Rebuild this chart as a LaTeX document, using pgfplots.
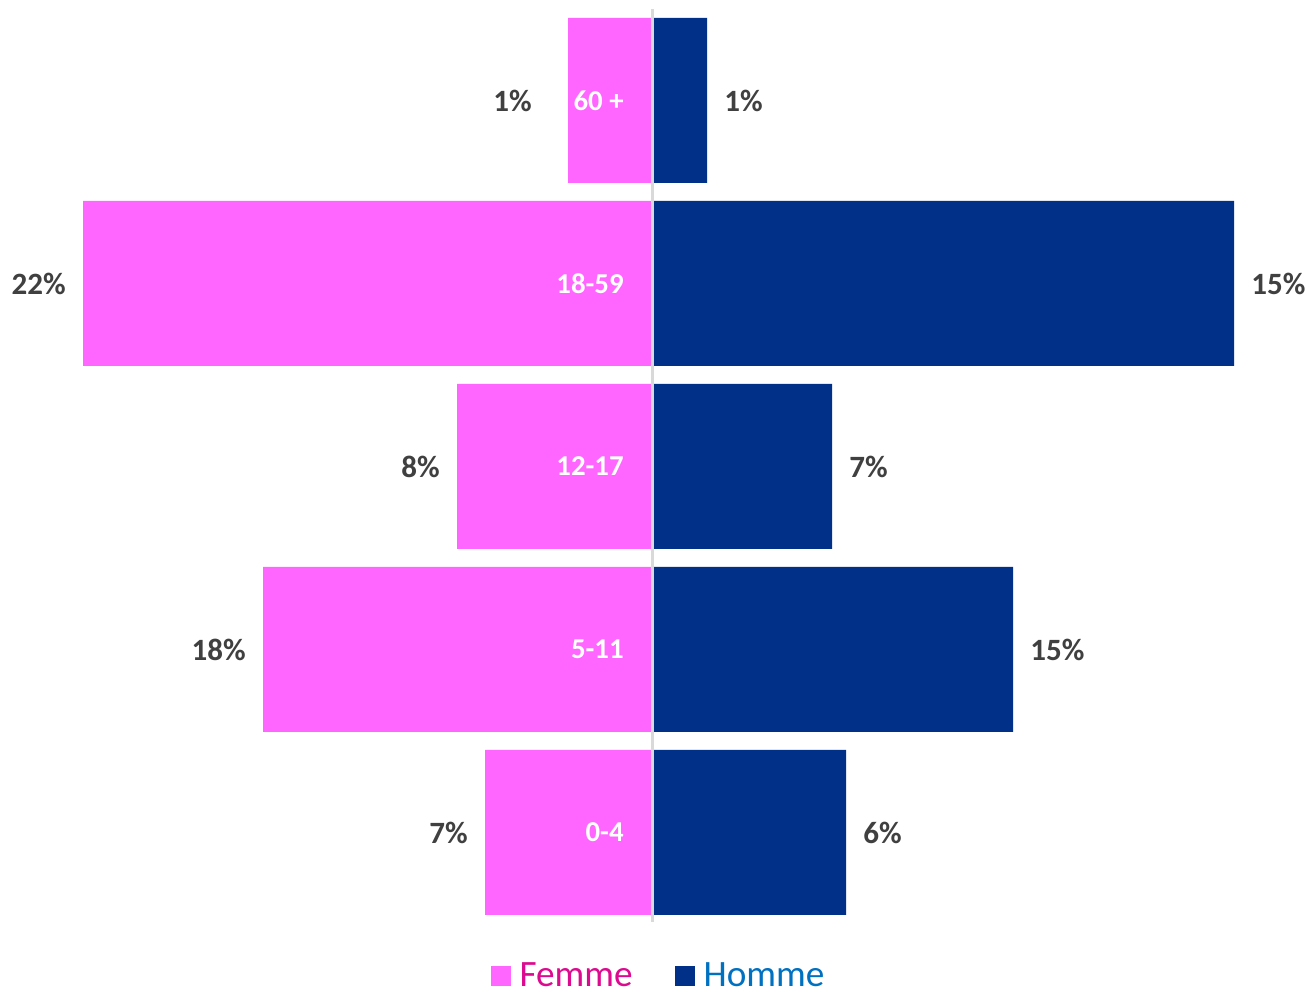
\documentclass[border=0pt]{standalone}
\usepackage{fontspec}
\setmainfont{Carlito}
\usepackage{pgfplots}
\pgfplotsset{compat=1.18}
\definecolor{femme}{HTML}{FF66FF}
\definecolor{homme}{HTML}{003087}
\definecolor{femmetxt}{HTML}{DC0A8F}
\definecolor{hommetxt}{HTML}{0070C0}
\definecolor{lbl}{HTML}{404040}
\definecolor{midline}{HTML}{D9D9D9}
\pgfplotsset{sqlegend/.style={legend image code/.code={\fill[##1] (0pt,-5pt) rectangle (10pt,5pt);}}}
\begin{document}
\begin{tikzpicture}
\useasboundingbox (0,0) rectangle (654.5pt,497.5pt);
\begin{axis}[
  at={(0,0)}, anchor=south west,
  width=654.5pt, height=497.5pt, scale only axis,
  xmin=-652, xmax=657, ymin=-0.888, ymax=4.549,
  axis lines=none, clip=false,
  legend style={at={(0.5023,0.0195)}, anchor=center, draw=none, fill=none,
    inner sep=0pt, legend columns=2,
    font=\fontsize{18.6}{21}\selectfont,
    nodes={inner sep=0pt},
    /tikz/every odd column/.append style={column sep=4.5pt},
    /tikz/every even column/.append style={column sep=21pt}},
]
% Femme (left, negative)
\addplot[xbar, sqlegend, bar shift=0pt, bar width=82.5pt, fill=femme, draw=none,
  nodes near coords, point meta=explicit symbolic,
  every node near coord/.append style={anchor=east, xshift=-8.5pt, inner sep=0pt,
    font=\fontsize{15.5}{18}\selectfont\bfseries, text=lbl}]
  coordinates {(-167,0) [7\%] (-389,1) [18\%] (-195,2) [8\%] (-569,3) [22\%] (-84,4) [1\%\hspace*{9.5pt}]};
\addlegendentry{\textcolor{femmetxt}{Femme}}
% Homme (right, positive)
\addplot[xbar, sqlegend, bar shift=0pt, bar width=82.5pt, fill=homme, draw=none,
  nodes near coords, point meta=explicit symbolic,
  every node near coord/.append style={anchor=west, xshift=8.5pt, inner sep=0pt,
    font=\fontsize{15.5}{18}\selectfont\bfseries, text=lbl}]
  coordinates {(194,0) [6\%] (361,1) [15\%] (180,2) [7\%] (582,3) [15\%] (55,4) [1\%]};
\addlegendentry{\textcolor{hommetxt}{Homme}}
% category labels
\addplot[forget plot, draw=none, mark=none,
  nodes near coords, point meta=explicit symbolic,
  every node near coord/.append style={anchor=east, inner sep=0pt,
    font=\fontsize{14.4}{17}\selectfont\bfseries, text=white}]
  coordinates {(-28,0) [0-4] (-28,1) [5-11] (-28,2) [12-17] (-28,3) [18-59] (-28,4) [60 +]};
\draw[midline, line width=1.5pt] (axis cs:0,-0.489) -- (axis cs:0,4.5);
\end{axis}
\end{tikzpicture}
\end{document}
